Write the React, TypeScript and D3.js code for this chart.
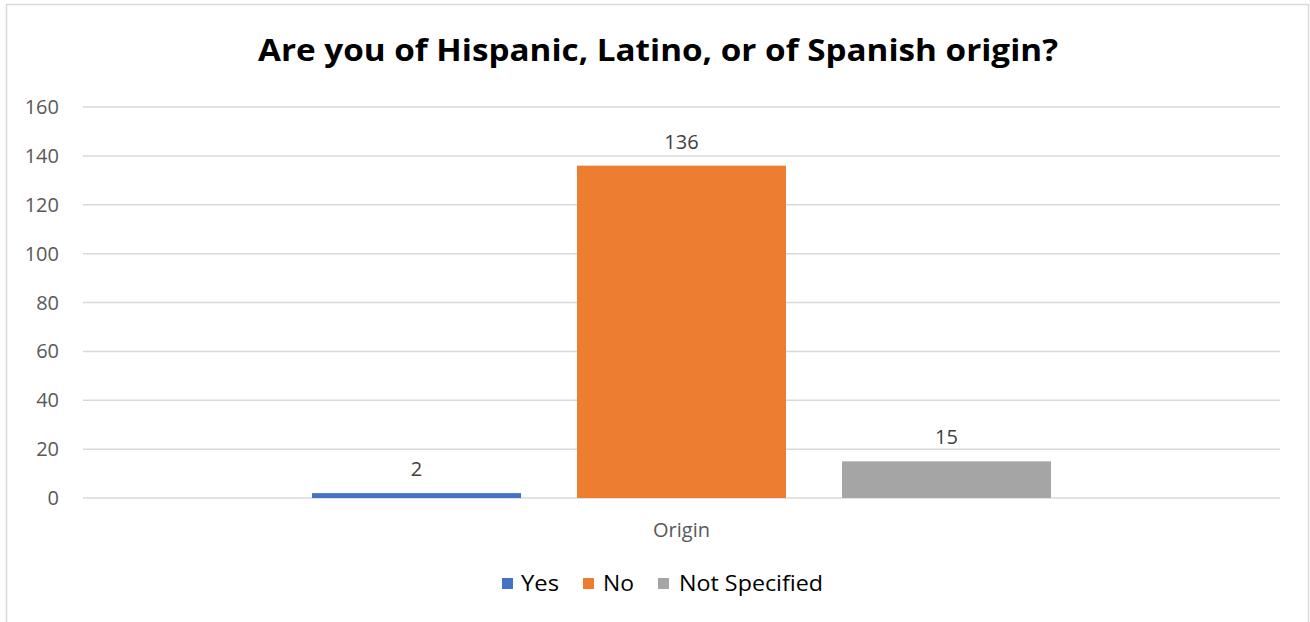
import React from "react";
import * as d3 from "d3";

const title = "Are you of Hispanic, Latino, or of Spanish origin?";
const categories = ["Origin"];
const seriesNames = ["Yes", "No", "Not Specified"];
const seriesValues = [2, 136, 15];
const seriesColors = ["#4472C4", "#ED7D31", "#A5A5A5"];
const yTicks = [0, 20, 40, 60, 80, 100, 120, 140, 160];

const W = 1310;
const H = 622;
const plot = { left: 83, right: 1280, top: 107, bottom: 498 };
const FONT = "'Open Sans', 'Noto Sans', sans-serif";

export default function App() {
  const y = d3.scaleLinear().domain([0, 160]).range([plot.bottom, plot.top]);
  const x0 = d3.scaleBand().domain(categories).range([plot.left, plot.right]).paddingInner(0).paddingOuter(0);
  const groupW = 739;
  const cat = categories[0];
  const groupStart = (x0(cat) as number) + (x0.bandwidth() - groupW) / 2;
  const x1 = d3.scaleBand().domain(seriesNames).range([groupStart, groupStart + groupW]).paddingInner(56 / 265).paddingOuter(0);

  const legendItems = [
    { name: "Yes", sx: 502, tx: 521, w: 38 },
    { name: "No", sx: 583, tx: 603, w: 31 },
    { name: "Not Specified", sx: 658, tx: 679, w: 144 },
  ];

  return (
    <svg width={W} height={H} style={{ position: "absolute", left: 0, top: 0, background: "#fff" }}>
      <rect x={6.5} y={4.5} width={1302} height={640} fill="#fff" stroke="#D9D9D9" strokeWidth={1.5} />
      <text x={658} y={61} textAnchor="middle" fontFamily={FONT} fontWeight="bold" fontSize={31} fill="#000"
        textLength={800} lengthAdjust="spacingAndGlyphs">{title}</text>
      {yTicks.map((t) => (
        <g key={t}>
          <line x1={plot.left} x2={plot.right} y1={y(t)} y2={y(t)} stroke="#D9D9D9" strokeWidth={1.5} />
          <text x={59} y={y(t) + 7} textAnchor="end" fontFamily={FONT} fontSize={20} fill="#595959">{t}</text>
        </g>
      ))}
      {seriesNames.map((s, i) => {
        const v = seriesValues[i];
        const bx = x1(s) as number;
        return (
          <g key={s}>
            <rect x={bx} y={y(v)} width={x1.bandwidth()} height={y(0) - y(v)} fill={seriesColors[i]} />
            <text x={bx + x1.bandwidth() / 2} y={y(v) - 17} textAnchor="middle" fontFamily={FONT} fontSize={20} fill="#404040">{v}</text>
          </g>
        );
      })}
      <text x={(x0(cat) as number) + x0.bandwidth() / 2} y={537} textAnchor="middle" fontFamily={FONT} fontSize={20} fill="#595959">{cat}</text>
      {legendItems.map((l, i) => (
        <g key={l.name}>
          <rect x={l.sx} y={578} width={11} height={11} fill={seriesColors[i]} />
          <text x={l.tx} y={591} fontFamily={FONT} fontSize={22} fill="#000" textLength={l.w} lengthAdjust="spacingAndGlyphs">{l.name}</text>
        </g>
      ))}
    </svg>
  );
}
